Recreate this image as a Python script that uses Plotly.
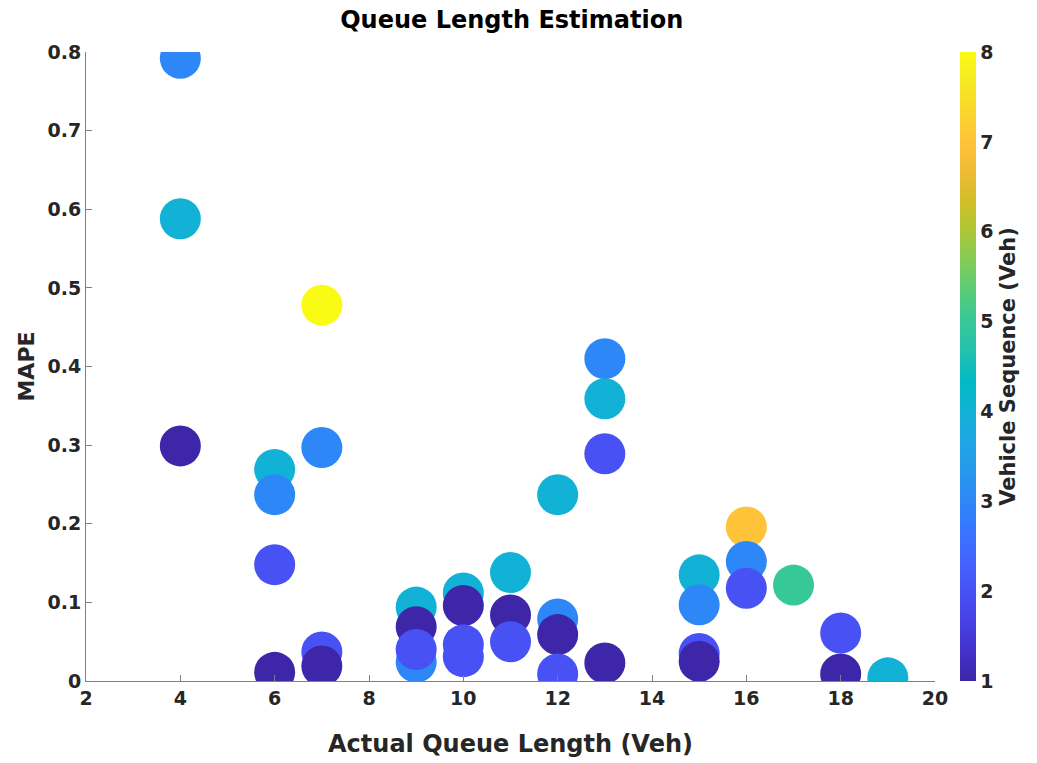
import plotly.graph_objects as go

# Actual queue length (veh), estimation error (MAPE) and vehicle sequence per point,
# listed in drawing order (later points sit on top).
queue_length = [4, 4, 4,
                6, 6, 6, 6,
                7, 7, 7, 7,
                9, 9, 9, 9,
                10, 10, 10, 10,
                11, 11, 11,
                12, 12, 12, 12,
                13, 13, 13, 13,
                15, 15, 15, 15,
                16, 16, 16,
                17,
                18, 18,
                19]
mape = [0.792, 0.588, 0.299,
        0.269, 0.237, 0.148, 0.011,
        0.478, 0.297, 0.037, 0.019,
        0.094, 0.069, 0.024, 0.040,
        0.112, 0.096, 0.046, 0.031,
        0.138, 0.084, 0.050,
        0.237, 0.079, 0.059, 0.009,
        0.410, 0.359, 0.289, 0.023,
        0.135, 0.097, 0.035, 0.025,
        0.196, 0.152, 0.118,
        0.122,
        0.061, 0.009,
        0.004]
vehicle_seq = [3, 4, 1,
               4, 3, 2, 1,
               8, 3, 2, 1,
               4, 1, 3, 2,
               4, 1, 2, 2,
               4, 1, 2,
               4, 3, 1, 2,
               3, 4, 2, 1,
               4, 3, 2, 1,
               7, 3, 2,
               5,
               2, 1,
               4]

x_ticks = [2, 4, 6, 8, 10, 12, 14, 16, 18, 20]
y_ticks = [0, 0.1, 0.2, 0.3, 0.4, 0.5, 0.6, 0.7, 0.8]
y_tick_text = ["0", "0.1", "0.2", "0.3", "0.4", "0.5", "0.6", "0.7", "0.8"]
cbar_ticks = [1, 2, 3, 4, 5, 6, 7, 8]

# MATLAB parula colormap samples
parula = [
    (0.2422, 0.1504, 0.6603), (0.2647, 0.1978, 0.7952), (0.2783, 0.2559, 0.8991),
    (0.2810, 0.3228, 0.9579), (0.2699, 0.3892, 0.9906), (0.2206, 0.4603, 0.9973),
    (0.1786, 0.5289, 0.9682), (0.1540, 0.5902, 0.9218), (0.1248, 0.6459, 0.8883),
    (0.0689, 0.6948, 0.8394), (0.0067, 0.7312, 0.7660), (0.1408, 0.7584, 0.6842),
    (0.2161, 0.7843, 0.5923), (0.3406, 0.8008, 0.4789), (0.5044, 0.7993, 0.3480),
    (0.6720, 0.7793, 0.2227), (0.8203, 0.7498, 0.1535), (0.9393, 0.7288, 0.2100),
    (0.9970, 0.7659, 0.2199), (0.9786, 0.8386, 0.1766), (0.9597, 0.9135, 0.1423),
    (0.9769, 0.9839, 0.0805),
]
n = len(parula)
colorscale = [
    [i / (n - 1), "rgb({:.0f},{:.0f},{:.0f})".format(r * 255, g * 255, b * 255)]
    for i, (r, g, b) in enumerate(parula)
]

FONT = "DejaVu Sans, Liberation Sans, Arial, sans-serif"
TEXT = "#262626"
AXIS_GREY = "#808080"


def bold(size, color=TEXT):
    return dict(family=FONT, size=size, color=color, weight="bold")


fig = go.Figure(
    go.Scatter(
        x=queue_length,
        y=mape,
        mode="markers",
        marker=dict(
            size=41,
            color=vehicle_seq,
            colorscale=colorscale,
            cmin=1,
            cmax=8,
            opacity=1,
            line=dict(width=0),
            colorbar=dict(
                x=1.029,
                xanchor="left",
                y=0.5,
                yanchor="middle",
                len=1,
                lenmode="fraction",
                thickness=16,
                xpad=0,
                ypad=0,
                outlinewidth=0,
                tickvals=cbar_ticks,
                ticks="",
                tickfont=bold(19),
                title=dict(text="Vehicle Sequence (Veh)", side="right", font=bold(21)),
            ),
        ),
        showlegend=False,
        hoverinfo="x+y",
    )
)

fig.update_layout(
    width=1037,
    height=763,
    margin=dict(l=86, r=102, t=52, b=82),
    paper_bgcolor="white",
    plot_bgcolor="white",
    font=dict(family=FONT, color=TEXT),
    title=dict(
        text="Queue Length Estimation",
        x=0.4935,
        xanchor="center",
        y=0.974,
        yanchor="middle",
        font=bold(24, "#000000"),
    ),
    xaxis=dict(
        range=[2, 20],
        tickvals=x_ticks,
        showgrid=False,
        zeroline=False,
        showline=True,
        linecolor=AXIS_GREY,
        linewidth=1,
        ticks="inside",
        ticklen=6,
        tickcolor=AXIS_GREY,
        tickfont=bold(19),
        automargin=False,
        title=dict(text="Actual Queue Length (Veh)", standoff=27, font=bold(24)),
    ),
    yaxis=dict(
        range=[0, 0.8],
        tickvals=y_ticks,
        ticktext=y_tick_text,
        showgrid=False,
        zeroline=False,
        showline=True,
        linecolor=AXIS_GREY,
        linewidth=1,
        ticks="inside",
        ticklen=6,
        tickcolor=AXIS_GREY,
        tickfont=bold(19),
        automargin=False,
        title=dict(text="MAPE", standoff=6, font=bold(22)),
    ),
)

fig.write_html("out.html")
